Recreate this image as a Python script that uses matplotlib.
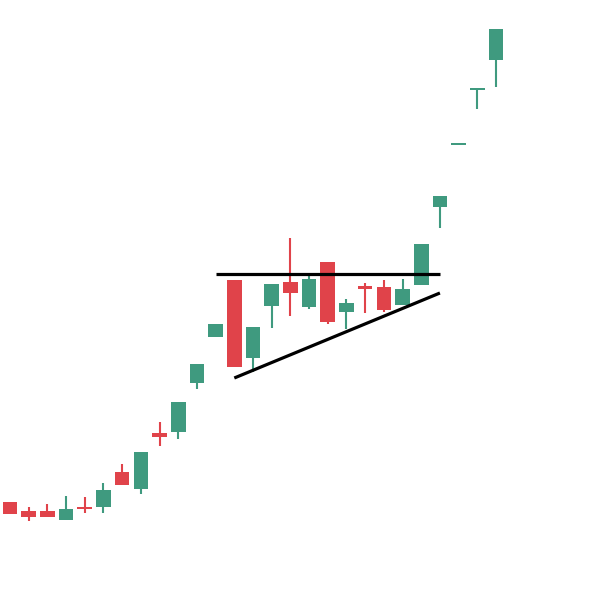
import matplotlib
matplotlib.use("Agg")
import matplotlib.pyplot as plt
from matplotlib.patches import Rectangle

# OHLC series
opens  = [98, 89, 89, 80, 93, 93, 128, 111, 167, 168, 217, 263, 320, 242, 294, 318,
          293, 338, 288, 313.3, 313, 295, 315, 393, 455, 510, 540]
highs  = [98, 93, 96, 104, 103, 117, 136, 148, 178, 198, 236, 276, 320, 273, 316, 362,
          327, 338, 301, 317, 320, 321, 356, 404, 456.5, 512, 571]
lows   = [86, 79, 83, 80, 87, 87, 115, 106, 154, 161, 211, 263, 233, 228, 272, 284,
          291, 276, 271, 287, 288, 295, 315, 372, 455, 491, 513]
closes = [86, 83, 83, 91, 91, 110, 115, 148, 163, 198, 236, 276, 233, 273, 316, 307,
          321, 278, 297, 311.7, 290, 311, 356, 404, 456.5, 512, 571]

# Triangle pattern lines: (start index, end index, start price, end price)
resistance = (11, 23, 326, 326)
support = (12, 23, 222, 307)

UP = "#3f9a7f"
DOWN = "#e0434a"

fig = plt.figure(figsize=(6, 6), dpi=100)
ax = fig.add_axes([0, 0, 1, 1])
ax.set_axis_off()

step = (496 - 10) / 26
left = -10 / step
ax.set_xlim(left, left + 600 / step)
ax.set_ylim(0, 600)

body_w = 0.78
min_body = 2.2
for i, (o, h, l, c) in enumerate(zip(opens, highs, lows, closes)):
    col = UP if c >= o else DOWN
    ax.plot([i, i], [l, h], color=col, lw=1.5, solid_capstyle="butt", zorder=2)
    lo, hi = min(o, c), max(o, c)
    if hi - lo < min_body:
        mid = (hi + lo) / 2
        lo, hi = mid - min_body / 2, mid + min_body / 2
    ax.add_patch(Rectangle((i - body_w / 2, lo), body_w, hi - lo,
                           facecolor=col, edgecolor="none", zorder=3))

for x0, x1, y0, y1 in (resistance, support):
    ax.plot([x0, x1], [y0, y1], color="black", lw=2.3, solid_capstyle="butt", zorder=4)

fig.savefig("out.png", dpi=100, facecolor="white")
